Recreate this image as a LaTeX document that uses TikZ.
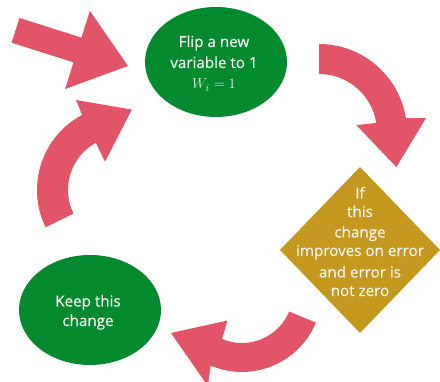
\documentclass[tikz,border=0pt]{standalone}
\usepackage{fontspec}
\setmainfont{Open Sans}[FakeBold=0.6]
\usetikzlibrary{shapes.geometric}
\definecolor{loopred}{RGB}{226,84,104}
\definecolor{stepgreen}{RGB}{3,137,46}
\definecolor{testgold}{RGB}{196,152,30}
\definecolor{labelwhite}{RGB}{240,244,236}
\tikzset{
  bigarrow/.style={fill=loopred, draw=none},
  stepoval/.style={ellipse, fill=stepgreen, draw=none, inner sep=0pt,
    minimum width=142pt, minimum height=110pt},
  testbox/.style={diamond, fill=testgold, draw=none, inner sep=0pt,
    outer sep=0pt, minimum width=160pt, minimum height=166pt},
  steptext/.style={text=labelwhite, align=center, anchor=base, inner sep=0pt,
    font=\fontsize{15.2}{19.5}\selectfont},
}
\begin{document}
\begin{tikzpicture}[x=1pt, y=1pt]
  \useasboundingbox (0,0) rectangle (440,382);

  % shapes
  \node[stepoval] (flip) at (216,320) {};
  \node[testbox]  (test) at (360,132) {};
  \node[stepoval] (keep) at (90,72) {};

  % labels (anchored at the baseline of their last line)
  \node[steptext, font=\fontsize{15.2}{21}\selectfont] (flipText) at (214,293)
    {Flip a new\\variable to 1\\$W_i = 1$};
  \node[steptext, font=\fontsize{15.2}{18.5}\selectfont] (testText) at (360,86)
    {If\\this\\[2pt]change\\improves on error\\[3pt]and error is\\not zero};
  \node[steptext] (keepText) at (88,56) {Keep this\\change};

  % straight entry arrow
  \begin{scope}[shift={(128,316)}, rotate=-17.6]
    \fill[bigarrow] (0,0) -- (-53,41) -- (-53,13) -- (-118,13) -- (-118,-13)
      -- (-53,-13) -- (-53,-41) -- cycle;
  \end{scope}

  % curved arrow: flip -> test
  \begin{scope}[shift={(319,250)}]
    \fill[bigarrow] (90:88) arc[start angle=90, end angle=9, radius=88]
      -- (7.5:108) -- (-24.4:85) -- (10.4:38) -- (9:58)
      arc[start angle=9, end angle=90, radius=58] -- cycle;
  \end{scope}

  % curved arrow: test -> keep
  \begin{scope}[shift={(242,90)}]
    \fill[bigarrow] (-22.5:80) arc[start angle=-22.5, end angle=-113, radius=80]
      -- (-110:100) -- (-150:82) -- (-117:32) -- (-113:51)
      arc[start angle=-113, end angle=-22.5, radius=51] -- cycle;
  \end{scope}

  % curved arrow: keep -> flip
  \begin{scope}[shift={(122,192)}]
    \fill[bigarrow] (206:85) arc[start angle=206, end angle=118, radius=85]
      -- (117:101) -- (83:81) -- (121:33) -- (119:54)
      arc[start angle=119, end angle=206, radius=54] -- cycle;
  \end{scope}
\end{tikzpicture}
\end{document}
